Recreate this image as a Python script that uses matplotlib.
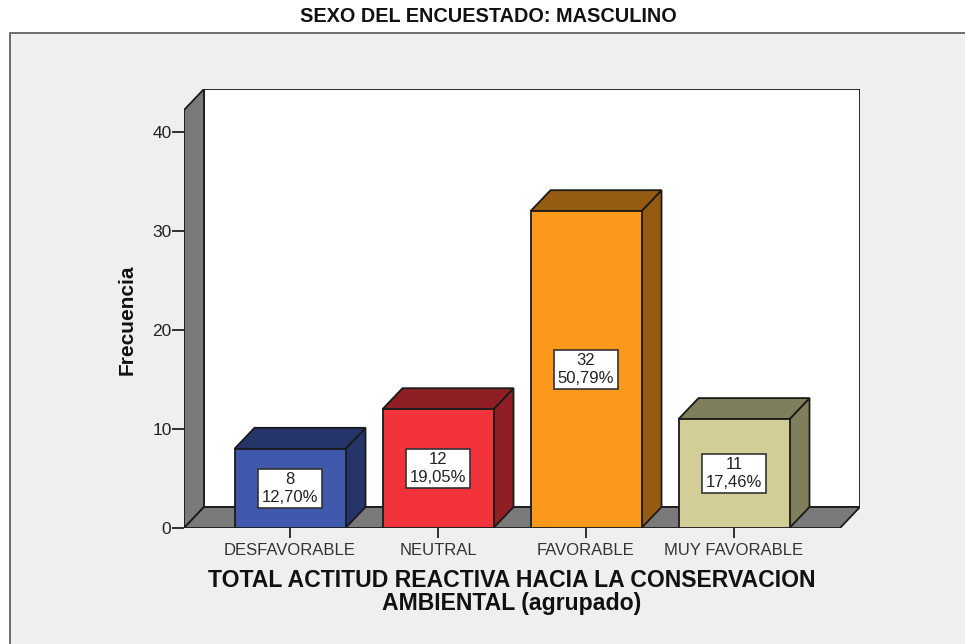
from matplotlib import pyplot as plt
from matplotlib.patches import Polygon, Rectangle

categories = ['DESFAVORABLE', 'NEUTRAL', 'FAVORABLE', 'MUY FAVORABLE']
counts = [8, 12, 32, 11]
percents = ['12,70%', '19,05%', '50,79%', '17,46%']
y_ticks = [0, 10, 20, 30, 40]
front_colors = ['#3E58AC', '#F2333B', '#FC991C', '#D3CE97']
dark_colors = ['#25356A', '#8F1F24', '#955B12', '#7F7F5C']

W, H = 965, 644
plt.rcParams['font.family'] = ['Liberation Sans', 'DejaVu Sans']

fig = plt.figure(figsize=(W / 100, H / 100), dpi=100, facecolor='white')

# grey chart panel behind everything
fig.add_artist(Rectangle((10 / W, -0.01), 1.0, 1 - 33 / H + 0.01, transform=fig.transFigure,
                         fc='#EFEFEF', ec='#555555', lw=1.2, zorder=-1))
fig.text(488 / W, 1 - 17 / H, 'SEXO DEL ENCUESTADO: MASCULINO', ha='center', va='center',
         fontsize=14.3, fontweight='bold', color='#111111')

# axes runs from the front-left corner to the back-right corner of the 3d box
ax = fig.add_axes([184 / W, (H - 528) / H, (860 - 184) / W, (528 - 89) / H])
px_x = 148.0
px_y = 9.9
x_left = -(290 - 184) / px_x
x_right = (860 - 290) / px_x
ax.set_xlim(x_left, x_right)
ax.set_ylim(0, (528 - 89) / px_y)
ax.patch.set_visible(False)
for s in ax.spines.values():
    s.set_visible(False)

dx = 20 / px_x
dy = 21 / px_y
top = ax.get_ylim()[1]
line = dict(ec='#1A1A1A', lw=1.3, joinstyle='miter')

# back wall, side wall and floor
ax.add_patch(Polygon([(x_left + dx, dy), (x_right, dy), (x_right, top), (x_left + dx, top)],
                     fc='white', **line))
ax.add_patch(Polygon([(x_left, 0), (x_left + dx, dy), (x_left + dx, top), (x_left, top - dy)],
                     fc='#7A7A7A', **line))
ax.add_patch(Polygon([(x_left, 0), (x_right - dx, 0), (x_right, dy), (x_left + dx, dy)],
                     fc='#7A7A7A', **line))

half = 0.375
for i, v in enumerate(counts):
    l, r = i - half, i + half
    ax.add_patch(Polygon([(r, 0), (r + dx, dy), (r + dx, v + dy), (r, v)],
                         fc=dark_colors[i], zorder=3, **line))
    ax.add_patch(Polygon([(l, v), (r, v), (r + dx, v + dy), (l + dx, v + dy)],
                         fc=dark_colors[i], zorder=3, **line))
    ax.add_patch(Rectangle((l, 0), 2 * half, v, fc=front_colors[i], zorder=4, **line))
    ax.text(i, v / 2, '%d\n%s' % (v, percents[i]), ha='center', va='center', zorder=5,
            fontsize=12, color='#222222', linespacing=1.2, multialignment='center',
            bbox=dict(boxstyle='square,pad=0.2', fc='white', ec='#333333', lw=1.2))

ax.set_xticks(range(len(categories)), categories)
ax.set_yticks(y_ticks)
ax.tick_params(axis='x', length=7, width=1.3, color='#222222', pad=3.5, labelsize=12,
               labelcolor='#333333')
ax.tick_params(axis='y', length=8.5, width=1.3, color='#222222', pad=0.5, labelsize=12.5,
               labelcolor='#222222')

fig.text(127 / W, 1 - 320 / H, 'Frecuencia', rotation=90, ha='center', va='center',
         fontsize=15, fontweight='bold', color='#111111')
fig.text(512 / W, 1 - 592 / H, 'TOTAL ACTITUD REACTIVA HACIA LA CONSERVACION\nAMBIENTAL (agrupado)',
         ha='center', va='center', fontsize=16.6, fontweight='bold', color='#111111', linespacing=0.95)

fig.savefig('out.png', dpi=100)
